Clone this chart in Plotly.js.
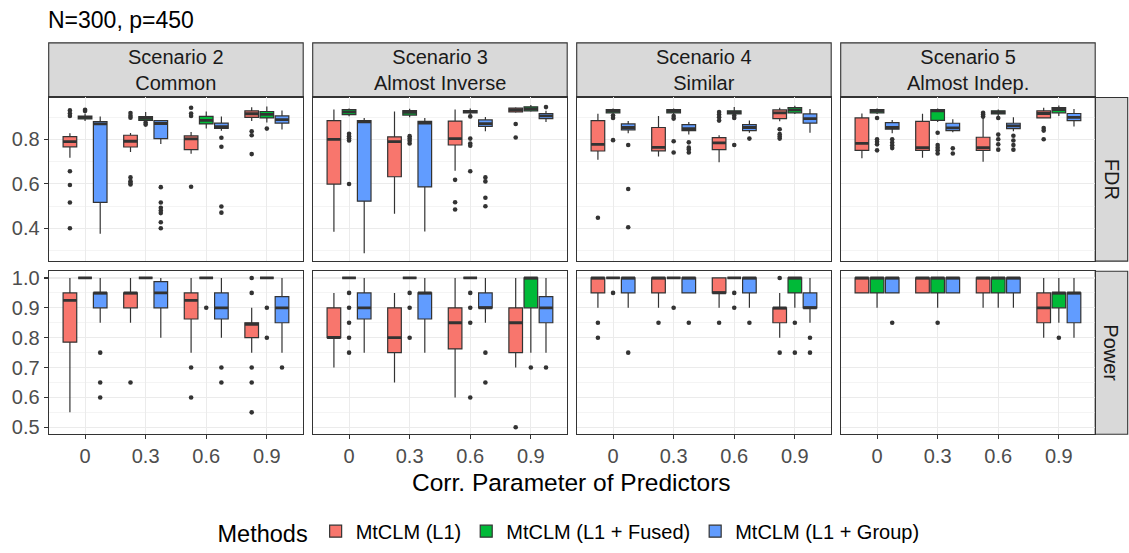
<!DOCTYPE html>
<html>
<head>
<meta charset="utf-8">
<script src="https://cdn.plot.ly/plotly-3.0.1.min.js"></script>
<style>
  html, body { margin: 0; padding: 0; background: #ffffff; }
  #chart { width: 1129px; height: 553px; }
</style>
</head>
<body>
<div id="chart"></div>
<script>
// Category labels and facet labels
const corrLabels = ['0', '0.3', '0.6', '0.9'];
const scenarioLabels = ['Scenario 2<br>Common', 'Scenario 3<br>Almost Inverse', 'Scenario 4<br>Similar', 'Scenario 5<br>Almost Indep.'];
const metricLabels = ['FDR', 'Power'];
const methods = ['MtCLM (L1)', 'MtCLM (L1 + Fused)', 'MtCLM (L1 + Group)'];

// Box summaries: one row per correlation level, [lower whisker, Q1, median, Q3, upper whisker]
// Outliers: one list per correlation level

// ---- FDR ----
const fdrS2L1 = [[0.718, 0.767, 0.790, 0.813, 0.828], [0.743, 0.766, 0.792, 0.819, 0.829], [0.736, 0.754, 0.803, 0.816, 0.834], [0.883, 0.900, 0.916, 0.929, 0.945]];
const fdrS2L1Out = [[0.931, 0.917, 0.906, 0.657, 0.595, 0.516, 0.400], [0.919, 0.907, 0.898, 0.629, 0.612, 0.604, 0.597], [0.943, 0.917, 0.906, 0.587], [0.837, 0.819, 0.734]];
const fdrS2Fused = [[0.883, 0.893, 0.900, 0.905, 0.917], [0.882, 0.886, 0.895, 0.903, 0.924], [0.849, 0.870, 0.886, 0.904, 0.926], [0.876, 0.897, 0.913, 0.926, 0.949]];
const fdrS2FusedOut = [[0.934, 0.928], [0.876, 0.867], [], [0.849]];
const fdrS2Group = [[0.375, 0.516, 0.870, 0.880, 0.904], [0.779, 0.804, 0.872, 0.885, 0.886], [0.839, 0.850, 0.858, 0.874, 0.904], [0.845, 0.874, 0.889, 0.906, 0.931]];
const fdrS2GroupOut = [[], [0.585, 0.516, 0.492, 0.480, 0.468, 0.427, 0.400], [0.808, 0.767, 0.498, 0.470], []];

const fdrS3L1 = [[0.384, 0.599, 0.800, 0.885, 0.935], [0.465, 0.632, 0.790, 0.812, 0.926], [0.659, 0.775, 0.804, 0.883, 0.935], [0.920, 0.924, 0.933, 0.941, 0.945]];
const fdrS3L1Out = [[], [], [0.618, 0.517, 0.484], [0.870, 0.809]];
const fdrS3Fused = [[0.905, 0.912, 0.924, 0.935, 0.940], [0.900, 0.910, 0.922, 0.930, 0.938], [0.912, 0.920, 0.926, 0.930, 0.940], [0.925, 0.929, 0.938, 0.947, 0.955]];
const fdrS3FusedOut = [[0.826, 0.815, 0.805, 0.795, 0.599], [0.815, 0.804, 0.794, 0.782], [0.904, 0.804, 0.782, 0.772, 0.657], []];
const fdrS3Group = [[0.287, 0.522, 0.879, 0.885, 0.897], [0.385, 0.586, 0.874, 0.882, 0.897], [0.837, 0.859, 0.871, 0.888, 0.901], [0.879, 0.894, 0.906, 0.917, 0.930]];
const fdrS3GroupOut = [[], [], [0.629, 0.611, 0.537, 0.499], [0.946]];

const fdrS4L1 = [[0.708, 0.748, 0.778, 0.885, 0.916], [0.723, 0.749, 0.764, 0.854, 0.906], [0.697, 0.754, 0.785, 0.808, 0.819], [0.882, 0.894, 0.920, 0.933, 0.943]];
const fdrS4L1Out = [[0.447], [], [0.924, 0.912, 0.900, 0.885], [0.846, 0.824, 0.813, 0.804]];
const fdrS4Fused = [[0.915, 0.920, 0.929, 0.935, 0.940], [0.915, 0.920, 0.928, 0.935, 0.940], [0.911, 0.915, 0.922, 0.929, 0.946], [0.915, 0.920, 0.933, 0.944, 0.952]];
const fdrS4FusedOut = [[0.908, 0.897, 0.797], [0.906, 0.894, 0.792, 0.741], [0.908, 0.897, 0.775], []];
const fdrS4Group = [[0.828, 0.843, 0.854, 0.870, 0.883], [0.822, 0.840, 0.849, 0.867, 0.879], [0.830, 0.840, 0.854, 0.867, 0.885], [0.830, 0.874, 0.894, 0.915, 0.937]];
const fdrS4GroupOut = [[0.775, 0.577, 0.404], [0.787, 0.763, 0.755, 0.741], [0.804], []];

const fdrS5L1 = [[0.715, 0.751, 0.782, 0.897, 0.917], [0.718, 0.751, 0.763, 0.882, 0.916], [0.700, 0.751, 0.763, 0.810, 0.897], [0.895, 0.897, 0.917, 0.929, 0.943]];
const fdrS5L1Out = [[], [], [0.920, 0.912, 0.903], [0.852, 0.840, 0.801]];
const fdrS5Fused = [[0.915, 0.920, 0.929, 0.935, 0.940], [0.879, 0.886, 0.929, 0.935, 0.940], [0.905, 0.915, 0.922, 0.929, 0.935], [0.906, 0.920, 0.935, 0.944, 0.953]];
const fdrS5FusedOut = [[0.897, 0.801, 0.790, 0.778, 0.751], [0.830, 0.775, 0.763, 0.751, 0.737], [0.897, 0.822, 0.801, 0.778, 0.754], []];
const fdrS5Group = [[0.828, 0.846, 0.854, 0.876, 0.888], [0.833, 0.840, 0.852, 0.873, 0.891], [0.837, 0.849, 0.861, 0.873, 0.900], [0.858, 0.885, 0.900, 0.917, 0.937]];
const fdrS5GroupOut = [[0.801, 0.786, 0.774, 0.761], [0.760, 0.737], [0.817, 0.795, 0.775, 0.754], []];

// ---- Power ----
const powS2L1 = [[0.55, 0.785, 0.925, 0.95, 1.0], [0.85, 0.90, 0.95, 0.95, 1.0], [0.75, 0.8625, 0.925, 0.95, 1.0], [0.75, 0.80, 0.845, 0.85, 0.90]];
const powS2L1Out = [[], [0.65], [0.70, 0.60], [1.0, 0.95, 0.70, 0.65, 0.55]];
const powS2Fused = [[1, 1, 1, 1, 1], [1, 1, 1, 1, 1], [1, 1, 1, 1, 1], [1, 1, 1, 1, 1]];
const powS2FusedOut = [[], [], [0.90], [0.90, 0.80]];
const powS2Group = [[0.85, 0.90, 0.95, 0.95, 1.0], [0.80, 0.90, 0.95, 0.9875, 1.0], [0.80, 0.8625, 0.90, 0.95, 1.0], [0.75, 0.85, 0.90, 0.9375, 1.0]];
const powS2GroupOut = [[0.75, 0.65, 0.60], [], [0.70, 0.65], [0.70]];

const powS3L1 = [[0.70, 0.80, 0.80, 0.90, 0.95], [0.65, 0.75, 0.80, 0.90, 0.95], [0.60, 0.7625, 0.85, 0.90, 1.0], [0.70, 0.75, 0.85, 0.90, 1.0]];
const powS3L1Out = [[], [], [], [0.50]];
const powS3Fused = [[1, 1, 1, 1, 1], [1, 1, 1, 1, 1], [1, 1, 1, 1, 1], [0.75, 0.90, 1.0, 1.0, 1.0]];
const powS3FusedOut = [[0.95, 0.90, 0.85, 0.80, 0.75], [0.95, 0.90, 0.80], [0.95, 0.90, 0.85, 0.60], [0.70]];
const powS3Group = [[0.75, 0.8625, 0.90, 0.95, 1.0], [0.75, 0.8625, 0.95, 0.95, 1.0], [0.85, 0.90, 0.90, 0.95, 1.0], [0.75, 0.85, 0.90, 0.9375, 1.0]];
const powS3GroupOut = [[], [], [0.75, 0.65], [0.70]];

const powS4L1 = [[0.90, 0.95, 1.0, 1.0, 1.0], [0.90, 0.95, 1.0, 1.0, 1.0], [0.90, 0.95, 0.95, 1.0, 1.0], [0.80, 0.85, 0.90, 0.90, 0.95]];
const powS4L1Out = [[0.85, 0.80], [0.85], [0.85], [1.0, 0.75]];
const powS4Fused = [[1, 1, 1, 1, 1], [1, 1, 1, 1, 1], [1, 1, 1, 1, 1], [0.90, 0.95, 1.0, 1.0, 1.0]];
const powS4FusedOut = [[0.95], [0.90], [0.95, 0.90], [0.85, 0.75]];
const powS4Group = [[0.90, 0.95, 1.0, 1.0, 1.0], [0.95, 0.95, 1.0, 1.0, 1.0], [0.90, 0.95, 1.0, 1.0, 1.0], [0.85, 0.90, 0.90, 0.95, 1.0]];
const powS4GroupOut = [[0.75], [0.85], [0.85], [0.80, 0.75]];

const powS5L1 = [[0.95, 0.95, 1.0, 1.0, 1.0], [0.95, 0.95, 1.0, 1.0, 1.0], [0.90, 0.95, 1.0, 1.0, 1.0], [0.80, 0.85, 0.90, 0.95, 1.0]];
const powS5L1Out = [[], [], [], []];
const powS5Fused = [[0.90, 0.95, 1.0, 1.0, 1.0], [0.90, 0.95, 1.0, 1.0, 1.0], [0.90, 0.95, 1.0, 1.0, 1.0], [0.85, 0.90, 0.95, 0.95, 1.0]];
const powS5FusedOut = [[], [0.85], [], [0.80]];
const powS5Group = [[0.95, 0.95, 1.0, 1.0, 1.0], [0.95, 0.95, 1.0, 1.0, 1.0], [0.90, 0.95, 1.0, 1.0, 1.0], [0.80, 0.85, 0.95, 0.95, 1.0]];
const powS5GroupOut = [[0.85], [], [], []];

// ---- assembly ----
const panels = [
  { row: 0, col: 0, stats: [fdrS2L1, fdrS2Fused, fdrS2Group], out: [fdrS2L1Out, fdrS2FusedOut, fdrS2GroupOut] },
  { row: 0, col: 1, stats: [fdrS3L1, fdrS3Fused, fdrS3Group], out: [fdrS3L1Out, fdrS3FusedOut, fdrS3GroupOut] },
  { row: 0, col: 2, stats: [fdrS4L1, fdrS4Fused, fdrS4Group], out: [fdrS4L1Out, fdrS4FusedOut, fdrS4GroupOut] },
  { row: 0, col: 3, stats: [fdrS5L1, fdrS5Fused, fdrS5Group], out: [fdrS5L1Out, fdrS5FusedOut, fdrS5GroupOut] },
  { row: 1, col: 0, stats: [powS2L1, powS2Fused, powS2Group], out: [powS2L1Out, powS2FusedOut, powS2GroupOut] },
  { row: 1, col: 1, stats: [powS3L1, powS3Fused, powS3Group], out: [powS3L1Out, powS3FusedOut, powS3GroupOut] },
  { row: 1, col: 2, stats: [powS4L1, powS4Fused, powS4Group], out: [powS4L1Out, powS4FusedOut, powS4GroupOut] },
  { row: 1, col: 3, stats: [powS5L1, powS5Fused, powS5Group], out: [powS5L1Out, powS5FusedOut, powS5GroupOut] }
];

const FONT = 'Liberation Sans, Arial, Helvetica, sans-serif';
const W = 1129, H = 553;
const fills = ['#F8766D', '#00BA38', '#619CFF'];
const EDGE = '#333333';
const DODGE = 0.25;     // spacing between methods inside a correlation level
const BOX_W = 0.225;    // box width in axis units
const SMALL = 20;       // tick, strip and legend item text

// panel geometry in pixels
const colX = [[48.7, 303.2], [312.7, 567.2], [576.7, 831.2], [840.7, 1095.2]];
const rowY = [[98.5, 264.0], [274.3, 439.0]];
const stripTop = 43.3;
const stripRight = 1127.7;
const yRanges = [[0.2515, 0.9895], [0.4768, 1.0222]];

const px = v => v / W;
const py = v => 1 - v / H;

const traces = [];
const layout = {
  width: W, height: H,
  margin: { l: 0, r: 0, t: 0, b: 0 },
  paper_bgcolor: '#ffffff',
  plot_bgcolor: '#ffffff',
  font: { family: FONT, color: '#000000' },
  boxmode: 'overlay',
  showlegend: true,
  title: {
    text: 'N=300, p=450',
    x: px(48), xanchor: 'left', xref: 'paper',
    y: py(20), yanchor: 'middle', yref: 'paper',
    font: { family: FONT, size: 23, color: '#000000' }
  },
  legend: {
    orientation: 'h',
    x: px(570), xanchor: 'center',
    y: py(538), yanchor: 'middle',
    title: { text: 'Methods', side: 'left', font: { family: FONT, size: 23.5, color: '#000000' } },
    font: { family: FONT, size: SMALL, color: '#000000' },
    itemwidth: 30,
    bgcolor: 'rgba(0,0,0,0)'
  },
  shapes: [],
  annotations: []
};

panels.forEach((p, k) => {
  const n = p.row * 4 + p.col + 1;
  const xa = n === 1 ? 'x' : 'x' + n;
  const ya = n === 1 ? 'y' : 'y' + n;
  const xKey = n === 1 ? 'xaxis' : 'xaxis' + n;
  const yKey = n === 1 ? 'yaxis' : 'yaxis' + n;
  const isBottom = p.row === 1;
  const isLeft = p.col === 0;

  layout[xKey] = {
    domain: [px(colX[p.col][0]), px(colX[p.col][1])],
    anchor: ya,
    range: [0.4, 4.6],
    tickmode: 'array',
    tickvals: [1, 2, 3, 4],
    ticktext: corrLabels,
    showticklabels: isBottom,
    ticks: isBottom ? 'outside' : '',
    ticklen: 4, tickwidth: 1.1, tickcolor: EDGE,
    tickfont: { family: FONT, size: SMALL, color: '#4D4D4D' },
    showgrid: true, gridcolor: '#EBEBEB', gridwidth: 1.1,
    zeroline: false,
    showline: true, mirror: true, linecolor: EDGE, linewidth: 1.1,
    fixedrange: true
  };
  layout[yKey] = {
    domain: [py(rowY[p.row][1]), py(rowY[p.row][0])],
    anchor: xa,
    range: yRanges[p.row],
    tickmode: 'linear',
    tick0: 0,
    dtick: p.row === 0 ? 0.2 : 0.1,
    tickformat: '.1f',
    showticklabels: isLeft,
    ticks: isLeft ? 'outside' : '',
    ticklen: 4, tickwidth: 1.1, tickcolor: EDGE,
    tickfont: { family: FONT, size: SMALL, color: '#4D4D4D' },
    showgrid: true, gridcolor: '#EBEBEB', gridwidth: 1.1,
    minor: { dtick: p.row === 0 ? 0.1 : 0.05, tick0: 0, showgrid: true, gridcolor: '#EBEBEB', gridwidth: 0.55, ticks: '' },
    zeroline: false,
    showline: true, mirror: true, linecolor: EDGE, linewidth: 1.1,
    fixedrange: true
  };

  methods.forEach((m, j) => {
    const st = p.stats[j];
    const pos = corrLabels.map((_, i) => i + 1 + (j - 1) * DODGE);

    traces.push({
      type: 'box', orientation: 'v',
      name: m, legendgroup: m, showlegend: k === 0,
      x: pos,
      lowerfence: st.map(s => s[0]),
      q1: st.map(s => s[1]),
      median: st.map(s => s[2]),
      q3: st.map(s => s[3]),
      upperfence: st.map(s => s[4]),
      width: BOX_W,
      whiskerwidth: 0,
      boxpoints: false,
      fillcolor: fills[j],
      line: { color: EDGE, width: 1.2 },
      xaxis: xa, yaxis: ya,
      hoverinfo: 'skip'
    });

    // thicker median bar on top of each box
    const mx = [], my = [];
    pos.forEach((x0, i) => {
      mx.push(x0 - BOX_W / 2, x0 + BOX_W / 2, null);
      my.push(st[i][2], st[i][2], null);
    });
    traces.push({
      type: 'scatter', mode: 'lines', x: mx, y: my,
      line: { color: EDGE, width: 2.8 },
      showlegend: false, hoverinfo: 'skip', xaxis: xa, yaxis: ya
    });

    // outlying observations
    const ox = [], oy = [];
    p.out[j].forEach((vals, i) => vals.forEach(v => { ox.push(pos[i]); oy.push(v); }));
    traces.push({
      type: 'scatter', mode: 'markers', x: ox, y: oy,
      marker: { color: EDGE, size: 4.6 },
      showlegend: false, hoverinfo: 'skip', xaxis: xa, yaxis: ya
    });
  });
});

// facet strips: scenarios on top
scenarioLabels.forEach((lab, c) => {
  layout.shapes.push({
    type: 'rect', xref: 'paper', yref: 'paper', layer: 'below',
    x0: px(colX[c][0]), x1: px(colX[c][1]), y0: py(rowY[0][0]), y1: py(stripTop),
    fillcolor: '#D9D9D9', line: { color: EDGE, width: 1.1 }
  });
  layout.annotations.push({
    xref: 'paper', yref: 'paper', showarrow: false,
    x: px((colX[c][0] + colX[c][1]) / 2), y: py((stripTop + rowY[0][0]) / 2),
    xanchor: 'center', yanchor: 'middle',
    text: lab, font: { family: FONT, size: SMALL, color: '#1A1A1A' }
  });
});

// facet strips: metrics on the right
metricLabels.forEach((lab, r) => {
  layout.shapes.push({
    type: 'rect', xref: 'paper', yref: 'paper', layer: 'below',
    x0: px(colX[3][1]), x1: px(stripRight), y0: py(rowY[r][1]), y1: py(rowY[r][0]),
    fillcolor: '#D9D9D9', line: { color: EDGE, width: 1.1 }
  });
  layout.annotations.push({
    xref: 'paper', yref: 'paper', showarrow: false,
    x: px((colX[3][1] + stripRight) / 2), y: py((rowY[r][0] + rowY[r][1]) / 2),
    xanchor: 'center', yanchor: 'middle', textangle: 90,
    text: lab, font: { family: FONT, size: SMALL, color: '#1A1A1A' }
  });
});

// shared x-axis title
layout.annotations.push({
  xref: 'paper', yref: 'paper', showarrow: false,
  x: px((colX[0][0] + colX[3][1]) / 2), y: py(488),
  xanchor: 'center', yanchor: 'middle',
  text: 'Corr. Parameter of Predictors',
  font: { family: FONT, size: 24.5, color: '#000000' }
});

Plotly.newPlot('chart', traces, layout, { displayModeBar: false, staticPlot: true });
</script>
</body>
</html>
